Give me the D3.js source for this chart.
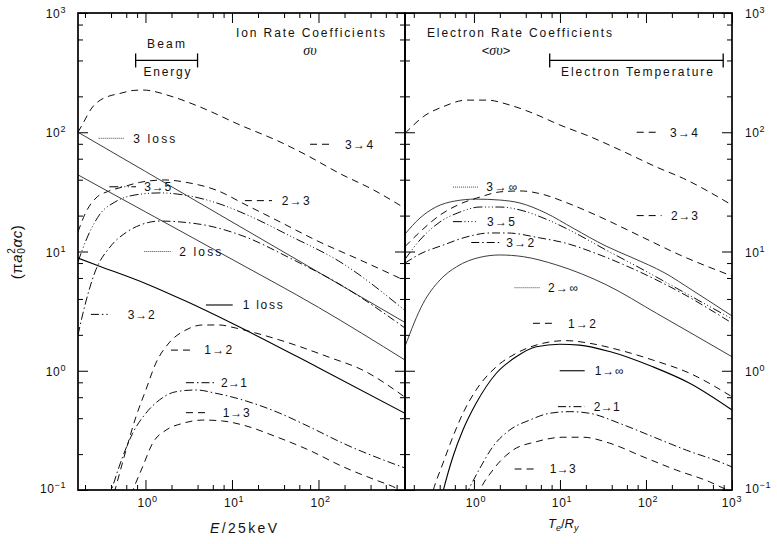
<!DOCTYPE html>
<html>
<head>
<meta charset="utf-8">
<title>Ion and electron rate coefficients</title>
<script src="https://cdn.jsdelivr.net/npm/d3@7/dist/d3.min.js"></script>
<style>
  html, body { margin: 0; padding: 0; background: #fff; }
  svg { display: block; }
  text { font-family: "Liberation Sans", Arial, sans-serif; fill: #111; }
</style>
</head>
<body>
<svg id="chart" width="777" height="544"></svg>
<script>
// ---------------------------------------------------------------
// Rate coefficients in units of (pi a0^2 alpha c)
// Each series: [abscissa, rate]
// ---------------------------------------------------------------

// Ion impact, abscissa E / 25 keV
const ion3to4 = [[0.166,100],[0.19,119],[0.24,160],[0.3,186],[0.38,201],[0.5,211],[0.72,224],[0.93,226],[2.08,198],[4.27,163],[12.4,115],[35.9,83],[73.6,64],[177,45],[427,33],[1000,23]];
const ion3loss = [[0.166,100],[1,46.9],[10,17.7],[100,6.7],[1000,2.54]];
const ion3to5 = [[0.166,8.2],[0.216,13.5],[0.298,20.6],[0.444,26.0],[0.757,29.8],[1.47,31.0],[3.27,29.2],[7.26,25.0],[16.1,19.8],[46.9,13.5],[177,8.2],[1000,3.2]];
const ion2to3 = [[0.166,14.6],[0.205,21.4],[0.268,28.1],[0.378,32.1],[0.55,34.8],[0.86,38.0],[1.68,39.8],[3.27,37.5],[6.53,32.8],[14.5,24.6],[35.9,17.7],[98.6,12.2],[302,8.5],[1000,5.7]];
const ion2loss = [[0.166,43.9],[1,21.5],[10,8.6],[100,3.4],[1000,1.23]];
const ion1loss = [[0.166,8.8],[0.3,7.5],[1,5.4],[3,3.8],[10,2.5],[100,1.06],[1000,0.44]];
const ion3to2 = [[0.166,2.0],[0.2,3.56],[0.261,6.73],[0.389,10.9],[0.611,14.6],[0.935,17.0],[1.47,18.0],[2.51,17.7],[5.42,16.4],[14.5,13.2],[46.9,8.8],[177,5.3],[1000,2.28]];
const ion1to2 = [[0.40,0.076],[0.456,0.107],[0.596,0.216],[0.776,0.411],[1.01,0.690],[1.32,1.16],[1.87,1.71],[2.94,2.20],[4.58,2.42],[7.08,2.42],[11.1,2.28],[18.9,2.07],[45.6,1.71],[132,1.30],[327,1.01],[1000,0.60]];
const ion2to1 = [[0.38,0.085],[0.418,0.107],[0.545,0.190],[0.711,0.299],[1.01,0.44],[1.45,0.569],[2.25,0.667],[3.84,0.690],[6.53,0.647],[13.3,0.569],[32.3,0.454],[77.6,0.340],[191,0.247],[631,0.173],[1000,0.153]];
const ion1to3 = [[0.68,0.091],[0.743,0.107],[0.929,0.157],[1.21,0.247],[1.73,0.318],[2.69,0.362],[4.58,0.386],[7.82,0.379],[13.3,0.351],[32.3,0.280],[77.6,0.216],[191,0.157],[462,0.121],[721,0.107],[1000,0.095]];

// Electron impact (Maxwellian average), abscissa Te / Ry
const el3to4 = [[0.158,98],[0.172,104],[0.257,135],[0.44,164],[0.822,186],[1.41,186],[2.62,169],[4.9,144],[10,115],[22.3,92],[54.5,69],[133,51],[272,41],[1000,24.5]];
const el3inf = [[0.158,14.0],[0.236,19.1],[0.361,23.6],[0.601,26.5],[1.05,27.5],[2.0,27.0],[3.43,25.5],[6.87,21.0],[14.2,15.7],[34.3,11.1],[68.7,8.9],[166,6.6],[343,4.75],[1000,2.88]];
const el2to3 = [[0.158,11.0],[0.236,14.6],[0.403,20.2],[0.687,25.0],[1.175,28.6],[2.0,31.6],[3.43,32.2],[6.7,29.8],[11.4,26.0],[29.2,19.5],[85.1,13.5],[248,9.35],[1000,6.23]];
const el3to5 = [[0.158,8.6],[0.236,12.5],[0.403,17.7],[0.687,21.4],[1.175,23.6],[2.0,23.6],[3.43,22.3],[6.87,18.7],[14.2,14.6],[34.3,10.3],[85.1,7.27],[248,4.75],[1000,2.72]];
const el3to2 = [[0.158,8.0],[0.236,9.53],[0.437,11.3],[0.807,13.2],[1.535,14.3],[2.42,14.3],[5.85,13.0],[11.4,11.8],[29.2,9.35],[85.1,6.73],[248,4.57],[1000,2.51]];
const el2inf = [[0.158,1.6],[0.257,3.68],[0.403,5.77],[0.63,7.46],[1.175,8.94],[2.0,9.35],[3.74,9.05],[9.16,7.71],[34.9,5.24],[133,3.03],[1000,1.31]];
const el1to2 = [[0.31,0.08],[0.333,0.097],[0.437,0.168],[0.570,0.280],[0.745,0.440],[1.06,0.690],[1.82,1.08],[3.10,1.40],[6.34,1.70],[11.8,1.79],[22.1,1.70],[49.4,1.49],[120,1.23],[322,0.953],[1000,0.605]];
const el1inf = [[0.40,0.075],[0.437,0.097],[0.570,0.190],[0.745,0.318],[1.06,0.533],[1.82,0.953],[3.10,1.31],[5.30,1.59],[9.93,1.67],[16.9,1.64],[37.8,1.45],[120,1.08],[322,0.786],[1000,0.469]];
const el2to1 = [[0.8,0.09],[0.891,0.105],[1.16,0.15],[1.66,0.231],[2.60,0.318],[4.45,0.386],[7.59,0.440],[13.0,0.454],[22.1,0.440],[49.4,0.362],[120,0.280],[294,0.216],[785,0.168],[1000,0.156]];
const el1to3 = [[1.1,0.088],[1.16,0.097],[1.66,0.147],[2.84,0.216],[5.30,0.254],[10.8,0.277],[18.5,0.277],[37.8,0.247],[92.3,0.190],[225,0.147],[551,0.117],[785,0.104],[1000,0.097]];

// Axis ranges and tick values
const ionRange = [0.166, 1000];
const elRange = [0.158, 1000];
const rateRange = [0.1, 1000];
const decades = [0.1, 1, 10, 100, 1000];
const minorSteps = [2, 4, 6, 8];
const ionTickLabels = [1, 10, 100];
const elTickLabels = [1, 10, 100, 1000];

// Beam-energy and electron-temperature ranges marked with brackets
const beamEnergySpan = [0.77, 4];
const electronTempSpan = [7.6, 790];
const bracketLevel = 400;

// Line styles
const dash = {
  solid: null,
  dotted: null,
  dashed: "7,5",
  dotdash: "8,3,1.5,3",
  dash3dot: "9,2.5,1,2.5,1,2.5,1,2.5"
};

const ionSeries = [
  {key: "3→4", data: ion3to4, style: "dashed"},
  {key: "3 loss", data: ion3loss, style: "dotted"},
  {key: "3→5", data: ion3to5, style: "dash3dot"},
  {key: "2→3", data: ion2to3, style: "dashed"},
  {key: "2 loss", data: ion2loss, style: "dotted"},
  {key: "1 loss", data: ion1loss, style: "solid"},
  {key: "3→2", data: ion3to2, style: "dotdash"},
  {key: "1→2", data: ion1to2, style: "dashed"},
  {key: "2→1", data: ion2to1, style: "dotdash"},
  {key: "1→3", data: ion1to3, style: "dashed"}
];

const elSeries = [
  {key: "3→4", data: el3to4, style: "dashed"},
  {key: "3→∞", data: el3inf, style: "dotted"},
  {key: "2→3", data: el2to3, style: "dashed"},
  {key: "3→5", data: el3to5, style: "dash3dot"},
  {key: "3→2", data: el3to2, style: "dotdash"},
  {key: "2→∞", data: el2inf, style: "dotted"},
  {key: "1→2", data: el1to2, style: "dashed"},
  {key: "1→∞", data: el1inf, style: "solid"},
  {key: "2→1", data: el2to1, style: "dotdash"},
  {key: "1→3", data: el1to3, style: "dashed"}
];

// Curve keys: sample segment [x0, x1], label start tx, level y (data units), label width w
const ionKeys = [
  {key: "3 loss", x0: 0.288, x1: 0.569, tx: 0.723, y: 89, w: 42},
  {key: "3→4", x0: 79.8, x1: 147, tx: 203, y: 79.3, w: 28},
  {key: "3→5", x0: 0.382, x1: 0.777, tx: 0.969, y: 34.9, w: 27},
  {key: "2→3", x0: 14.1, x1: 29.0, tx: 37.5, y: 26.7, w: 28},
  {key: "2 loss", x0: 0.969, x1: 1.97, tx: 2.46, y: 10, w: 42},
  {key: "1 loss", x0: 5.0, x1: 10.2, tx: 13.3, y: 3.56, w: 40},
  {key: "3→2", x0: 0.234, x1: 0.366, tx: 0.623, y: 2.97, w: 27},
  {key: "1→2", x0: 1.97, x1: 3.67, tx: 4.78, y: 1.49, w: 28},
  {key: "2→1", x0: 2.94, x1: 6.24, tx: 7.46, y: 0.794, w: 26},
  {key: "1→3", x0: 2.94, x1: 5.46, tx: 7.80, y: 0.445, w: 27}
];

const elKeys = [
  {key: "3→4", x0: 78, x1: 145, tx: 190, y: 100, w: 28},
  {key: "3→∞", x0: 0.57, x1: 1.14, tx: 1.39, y: 34.7, w: 31},
  {key: "2→3", x0: 78, x1: 152, tx: 195, y: 20, w: 27},
  {key: "3→5", x0: 0.57, x1: 1.05, tx: 1.42, y: 17.8, w: 28},
  {key: "3→2", x0: 0.93, x1: 1.99, tx: 2.37, y: 11.9, w: 28},
  {key: "2→∞", x0: 2.97, x1: 5.81, tx: 7.25, y: 4.97, w: 30},
  {key: "1→2", x0: 4.85, x1: 9.06, tx: 12.4, y: 2.5, w: 28},
  {key: "1→∞", x0: 9.93, x1: 19.4, tx: 25.3, y: 1.0, w: 29},
  {key: "2→1", x0: 9.48, x1: 19.4, tx: 24.7, y: 0.5, w: 26},
  {key: "1→3", x0: 2.97, x1: 5.30, tx: 7.59, y: 0.15, w: 26}
];

// ---------------------------------------------------------------
// Drawing
// ---------------------------------------------------------------
const svg = d3.select("#chart");
const plotTop = 13, plotBottom = 490;
const ionLeft = 78, divider = 405, elRight = 732;

const y = d3.scaleLog().domain(rateRange).range([plotBottom, plotTop]);
const xIon = d3.scaleLog().domain(ionRange).range([ionLeft, divider]);
const xEl = d3.scaleLog().domain(elRange).range([divider, elRight]);

const defs = svg.append("defs");
[["clipIon", ionLeft, divider], ["clipEl", divider, elRight]].forEach(([id, a, b]) => {
  defs.append("clipPath").attr("id", id)
    .append("rect").attr("x", a).attr("y", plotTop).attr("width", b - a).attr("height", plotBottom - plotTop);
});

function minorValues(lo, hi) {
  const out = [];
  decades.forEach(d => minorSteps.forEach(m => {
    const v = m * d;
    if (v >= lo && v <= hi) out.push(v);
  }));
  return out;
}

function addTicks(g, axisFn, scale, values, size, translate) {
  const a = g.append("g").attr("transform", translate)
    .call(axisFn(scale).tickValues(values).tickSizeInner(size).tickSizeOuter(0).tickFormat(""));
  a.select(".domain").remove();
  a.selectAll("text").remove();
  a.selectAll("line").attr("stroke", "#000").attr("stroke-width", 1);
}

function drawPanel(x, range, left, right, clipId, series, keys) {
  const g = svg.append("g");
  const xMinor = minorValues(range[0], range[1]);
  const xMajor = decades.filter(v => v >= range[0] && v <= range[1]);
  const yMinor = minorValues(rateRange[0], rateRange[1]);

  addTicks(g, d3.axisBottom, x, xMinor, -5, `translate(0,${plotBottom})`);
  addTicks(g, d3.axisBottom, x, xMajor, -10, `translate(0,${plotBottom})`);
  addTicks(g, d3.axisTop, x, xMinor, -5, `translate(0,${plotTop})`);
  addTicks(g, d3.axisTop, x, xMajor, -10, `translate(0,${plotTop})`);
  addTicks(g, d3.axisLeft, y, yMinor, -5, `translate(${left},0)`);
  addTicks(g, d3.axisLeft, y, decades, -10, `translate(${left},0)`);
  addTicks(g, d3.axisRight, y, yMinor, -5, `translate(${right},0)`);
  addTicks(g, d3.axisRight, y, decades, -10, `translate(${right},0)`);

  const line = d3.line().x(d => x(d[0])).y(d => y(d[1])).curve(d3.curveMonotoneX);
  const curves = g.append("g").attr("clip-path", `url(#${clipId})`);
  series.forEach(s => {
    curves.append("path")
      .attr("d", line(s.data))
      .attr("fill", "none")
      .attr("stroke", s.style === "dotted" ? "#333" : "#000")
      .attr("stroke-width", s.style === "solid" ? 1.1 : 0.95)
      .attr("stroke-dasharray", dash[s.style]);
  });

  const styleOf = k => series.find(s => s.key === k).style;
  keys.forEach(k => {
    const st = styleOf(k.key);
    g.append("line")
      .attr("x1", x(k.x0)).attr("x2", x(k.x1))
      .attr("y1", y(k.y)).attr("y2", y(k.y))
      .attr("stroke", st === "dotted" ? "#444" : "#000")
      .attr("stroke-width", st === "solid" ? 1.1 : 1)
      .attr("stroke-dasharray", st === "dotted" ? "1,1" : dash[st]);
    g.append("text")
      .attr("x", x(k.tx)).attr("y", y(k.y) + 4.3)
      .attr("textLength", k.w).attr("lengthAdjust", "spacing")
      .style("font-size", "12px")
      .text(k.key);
  });

  g.append("rect")
    .attr("x", left).attr("y", plotTop)
    .attr("width", right - left).attr("height", plotBottom - plotTop)
    .attr("fill", "none").attr("stroke", "#000").attr("stroke-width", 1.7);
  return g;
}

drawPanel(xIon, ionRange, ionLeft, divider, "clipIon", ionSeries, ionKeys);
drawPanel(xEl, elRange, divider, elRight, "clipEl", elSeries, elKeys);

// Power-of-ten labels
function powerLabel(parent, px, baseline, v, anchor) {
  const e = Math.round(Math.log10(v));
  const t = parent.append("text")
    .attr("x", px).attr("y", baseline)
    .attr("text-anchor", anchor)
    .style("font-size", "12px").style("letter-spacing", "0.6px");
  t.append("tspan").text("10");
  t.append("tspan").attr("dy", -5).style("font-size", "9px").text(e < 0 ? "−" + (-e) : String(e));
}
decades.forEach(v => {
  const lift = v === rateRange[0] ? 2 : 0;
  powerLabel(svg, 66, y(v) + 5 - lift, v, "end");
  powerLabel(svg, 745, y(v) + 5 - lift, v, "start");
});
ionTickLabels.forEach(v => powerLabel(svg, xIon(v) + 2, 507, v, "middle"));
elTickLabels.forEach(v => {
  const last = v === elRange[1];
  powerLabel(svg, last ? xEl(v) + 10 : xEl(v) + 2, 507, v, last ? "end" : "middle");
});

// Plain text helper
function addText(parent, px, baseline, str, size, width) {
  const t = parent.append("text").attr("x", px).attr("y", baseline).style("font-size", size + "px");
  if (width) t.attr("textLength", width).attr("lengthAdjust", "spacing");
  t.text(str);
  return t;
}

// Panel titles
addText(svg, 236, 37, "Ion Rate Coefficients", 12, 149);
svg.append("text").attr("x", 310).attr("y", 55).attr("text-anchor", "middle")
  .style("font-size", "14px").style("font-family", "'Liberation Serif', serif").style("font-style", "italic")
  .text("συ");
addText(svg, 427, 37, "Electron Rate Coefficients", 12, 185);
{
  const t = svg.append("text").attr("x", 496).attr("y", 55).attr("text-anchor", "middle").style("font-size", "13px");
  t.append("tspan").text("<");
  t.append("tspan").style("font-family", "'Liberation Serif', serif").style("font-style", "italic").style("font-size", "14px").text("συ");
  t.append("tspan").text(">");
}

// Range brackets
function bracket(x, span, level) {
  const yy = y(level);
  const g = svg.append("g").attr("stroke", "#000").attr("stroke-width", 1.3);
  g.append("line").attr("x1", x(span[0])).attr("x2", x(span[1])).attr("y1", yy).attr("y2", yy);
  span.forEach(v => g.append("line").attr("x1", x(v)).attr("x2", x(v)).attr("y1", yy - 7).attr("y2", yy + 7));
}
bracket(xIon, beamEnergySpan, bracketLevel);
bracket(xEl, electronTempSpan, bracketLevel);
addText(svg, 147, 48, "Beam", 12, 38);
addText(svg, 143.5, 76, "Energy", 12, 47);
addText(svg, 561, 76, "Electron Temperature", 12, 152);

// Axis titles
{
  const t = svg.append("text").attr("x", 210).attr("y", 533).attr("textLength", 67).attr("lengthAdjust", "spacing").style("font-size", "14px");
  t.append("tspan").style("font-style", "italic").text("E");
  t.append("tspan").text("/25keV");
}
{
  const t = svg.append("text").attr("x", 548).attr("y", 528).style("font-size", "13px");
  t.append("tspan").style("font-style", "italic").text("T");
  t.append("tspan").attr("dy", 3).style("font-size", "9px").style("font-style", "italic").text("e");
  t.append("tspan").attr("dy", -3).text("/");
  t.append("tspan").style("font-style", "italic").text("R");
  t.append("tspan").attr("dy", 3).style("font-size", "9px").style("font-style", "italic").text("y");
}
{
  const t = svg.append("text").attr("transform", "translate(22,252) rotate(-90)")
    .attr("text-anchor", "middle").style("font-size", "15px").style("letter-spacing", "0.6px");
  t.append("tspan").text("(π");
  t.append("tspan").style("font-style", "italic").text("a");
  t.append("tspan").attr("dy", 3).style("font-size", "10px").text("0");
  t.append("tspan").attr("dx", -6).attr("dy", -10).style("font-size", "10px").text("2");
  t.append("tspan").attr("dy", 7).style("font-style", "italic").text("αc");
  t.append("tspan").text(")");
}
</script>
</body>
</html>
